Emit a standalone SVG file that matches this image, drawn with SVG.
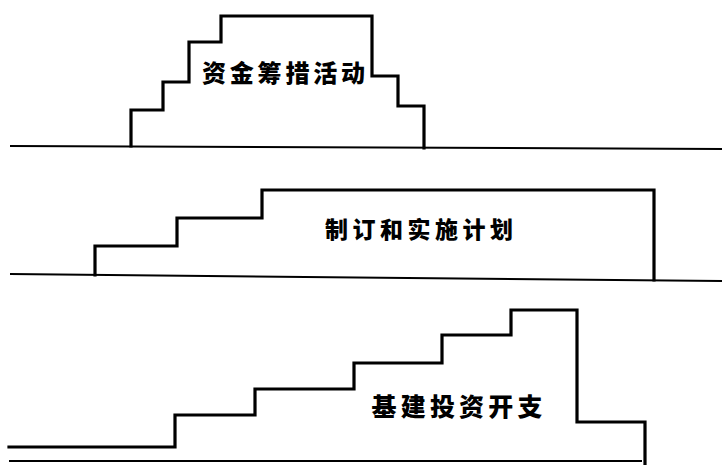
<svg xmlns="http://www.w3.org/2000/svg" width="722" height="465" viewBox="0 0 722 465">
<style>
.bg{fill:#ffffff}
.step{fill:none;stroke:#000;stroke-width:3.2;stroke-linejoin:miter;stroke-linecap:square}
.base{fill:none;stroke:#000;stroke-width:2}
.lbl{font-family:"Noto Sans CJK SC","Noto Sans CJK TC",sans-serif;font-weight:900;fill:#000;text-anchor:middle;dominant-baseline:central}
</style>
<rect class="bg" x="0" y="0" width="722" height="465"/>
<g id="connectors">
<line class="base" x1="10" y1="146" x2="722" y2="149"/>
<line class="base" x1="10" y1="274" x2="722" y2="281"/>
<line class="base" x1="9" y1="461" x2="642" y2="461"/>
</g>
<g id="node-fundraising">
<path class="step" d="M131,146 V110 H163 V82 H189 V42 H221 V16 H372 V76 H398 V106 H424 V148"/>
<text class="lbl" x="283.5" y="71" font-size="24" textLength="163" lengthAdjust="spacing">资金筹措活动</text>
</g>
<g id="node-plan">
<path class="step" d="M95,275 V246 H177 V218 H262 V190 H654 V280"/>
<text class="lbl" x="419" y="228" font-size="23" textLength="188" lengthAdjust="spacing">制订和实施计划</text>
</g>
<g id="node-investment">
<path class="step" d="M9,447 H175 V415 H255 V389 H354 V363 H442 V335 H511 V310 H577 V422 H645 V465"/>
<text class="lbl" x="457" y="405" font-size="25" textLength="171" lengthAdjust="spacing">基建投资开支</text>
</g>
</svg>
